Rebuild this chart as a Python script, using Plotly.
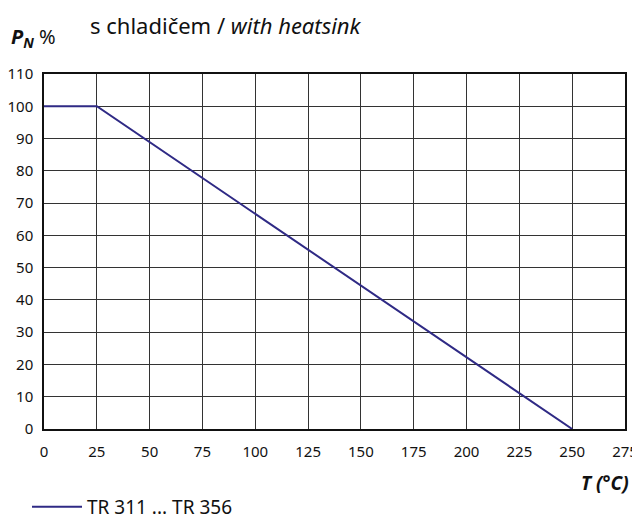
import plotly.graph_objects as go

temp_c = [0, 25, 250]
power_pct = [100, 100, 0]
series_name = "TR 311 ... TR 356"
x_ticks = [0, 25, 50, 75, 100, 125, 150, 175, 200, 225, 250, 275]
y_ticks = [0, 10, 20, 30, 40, 50, 60, 70, 80, 90, 100, 110]

FONT = "Noto Sans"
LINE_COLOR = "#2f2a85"

OFF = 8  # page body margin
W, H = 640 - OFF, 521 - OFF
L, T, B = 44 - OFF, 74 - OFF, 92
PW = 625 - 44
R = W - L - PW
PH = H - T - B


def px(xp):
    return (xp - OFF - L) / PW


def py(yp):
    return 1 - (yp - OFF - T) / PH


fig = go.Figure()
fig.add_trace(go.Scatter(x=temp_c, y=power_pct, mode="lines", name=series_name,
                         line=dict(color=LINE_COLOR, width=2)))

fig.update_layout(
    width=W, height=H,
    margin=dict(l=L, r=R, t=T, b=B, autoexpand=False),
    paper_bgcolor="white", plot_bgcolor="white",
    font=dict(family=FONT, size=15, color="#111"),
    showlegend=True,
    legend=dict(x=px(27), y=py(507), xanchor="left", yanchor="middle",
                font=dict(size=19, family=FONT, color="#111"), bgcolor="rgba(0,0,0,0)",
                itemwidth=50),
    xaxis=dict(range=[0, 275], tickvals=x_ticks, showgrid=True, gridcolor="#333",
               gridwidth=1, showline=True, linecolor="#111", linewidth=1.5, mirror=True,
               zeroline=False, ticks="", ticklabelstandoff=8, ticklabeloverflow="allow",
               tickfont=dict(size=15)),
    yaxis=dict(range=[0, 110], tickvals=y_ticks, showgrid=True, gridcolor="#333",
               gridwidth=1, showline=True, linecolor="#111", linewidth=1.5, mirror=True,
               zeroline=False, ticks="", ticklabelstandoff=6,
               tickfont=dict(size=15)),
)

fig.add_annotation(text="s chladičem / <i>with heatsink</i>", xref="paper", yref="paper",
                   x=px(88), y=py(25), xanchor="left", yanchor="middle",
                   showarrow=False, font=dict(size=22, family=FONT, color="#111"))
fig.add_annotation(text="<b><i>P</i></b><sub><b><i>N</i></b></sub> %", xref="paper", yref="paper",
                   x=px(9), y=py(38), xanchor="left", yanchor="middle",
                   showarrow=False, font=dict(size=20, family=FONT, color="#111"))
fig.add_annotation(text="<b><i>T (°C)</i></b>", xref="paper", yref="paper",
                   x=px(631), y=py(483), xanchor="right", yanchor="middle",
                   showarrow=False, font=dict(size=19, family=FONT, color="#111"))

fig.write_html("out.html")
